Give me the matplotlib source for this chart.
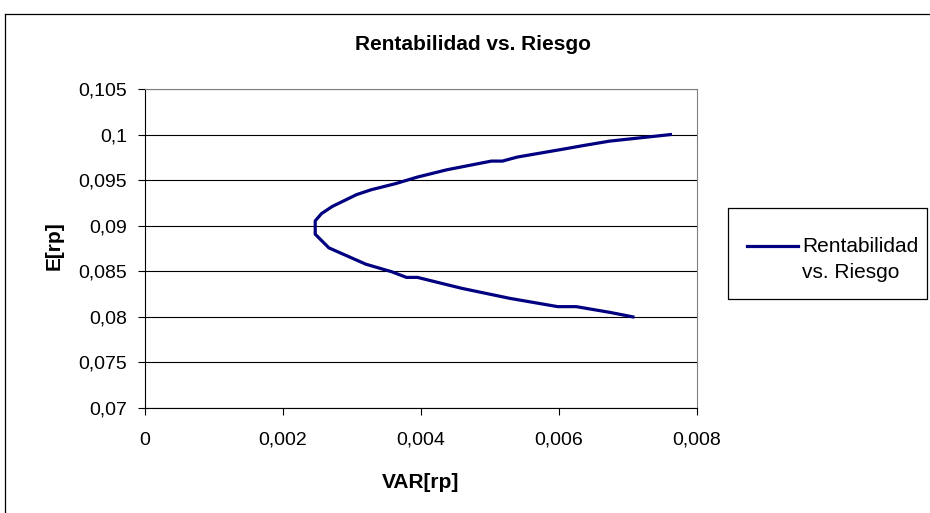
import matplotlib
matplotlib.use('Agg')
import matplotlib.pyplot as plt
from matplotlib.ticker import FuncFormatter, MultipleLocator
from matplotlib.lines import Line2D
from matplotlib.patches import Rectangle

plt.rcParams['font.family'] = ['Liberation Sans', 'DejaVu Sans']

# frontier points (lower branch -> vertex -> upper branch)
var_rp = [0.00707, 0.006732, 0.00625, 0.005982, 0.005287, 0.004591, 0.003949,
          0.003789, 0.003575, 0.0032, 0.002826, 0.002665, 0.002467,
          0.002467, 0.002558, 0.002718, 0.003066, 0.00328, 0.003628, 0.003949,
          0.004377, 0.005019, 0.00518, 0.005394, 0.00609, 0.006357, 0.006732,
          0.007615]
e_rp = [0.08, 0.0805, 0.08112, 0.08112, 0.08203, 0.08313, 0.08433,
        0.08433, 0.08495, 0.08578, 0.08703, 0.08757, 0.08907,
        0.09053, 0.09133, 0.09213, 0.09341, 0.09395, 0.09461, 0.09534,
        0.09614, 0.09709, 0.09709, 0.09753, 0.09844, 0.0988, 0.09928,
        0.1]

W, H = 930, 513
fig = plt.figure(figsize=(W / 100, H / 100), dpi=100)


def fx(px):
    return px / W


def fy(py):
    return 1 - py / H


# outer chart frame (top and left edges visible)
fig.add_artist(Line2D([fx(5), fx(5)], [0, fy(14)], color='black', lw=0.9,
                      transform=fig.transFigure))
fig.add_artist(Line2D([fx(5), 1], [fy(14), fy(14)], color='black', lw=0.9,
                      transform=fig.transFigure))

left, right, top, bottom = 145, 697, 89, 408
ax = fig.add_axes([fx(left), fy(bottom), (right - left) / W, (bottom - top) / H])

ax.plot(var_rp, e_rp, color='#000080', lw=2.3, solid_joinstyle='round')

ax.set_xlim(0, 0.008)
ax.set_ylim(0.07, 0.105)
ax.xaxis.set_major_locator(MultipleLocator(0.002))
ax.yaxis.set_major_locator(MultipleLocator(0.005))

fmt = FuncFormatter(lambda v, p: ('%g' % round(v, 6)).replace('.', ','))
ax.xaxis.set_major_formatter(fmt)
ax.yaxis.set_major_formatter(fmt)

ax.grid(axis='y', color='black', lw=0.8)
ax.set_axisbelow(True)
for s in ['top', 'right']:
    ax.spines[s].set_color('#808080')
ax.spines['left'].set_color('black')
ax.spines['bottom'].set_color('black')

ax.tick_params(axis='both', direction='out', length=5, labelsize=14, width=0.8)
ax.tick_params(axis='x', pad=12)
ax.tick_params(axis='y', pad=8)

fig.text(fx(421), fy(482), 'VAR[rp]', ha='center', va='center',
         fontsize=15, fontweight='bold')
fig.text(fx(54), fy(246), 'E[rp]', ha='center', va='center', rotation=90,
         fontsize=15, fontweight='bold')
fig.text(fx(473), fy(45), 'Rentabilidad vs. Riesgo', ha='center', va='center',
         fontsize=15, fontweight='bold')

# legend box
fig.add_artist(Rectangle((fx(728), fy(299)), 199 / W, 91 / H, fill=False,
                         edgecolor='black', lw=0.9, transform=fig.transFigure))
fig.add_artist(Line2D([fx(747), fx(798)], [fy(246), fy(246)], color='#000080',
                      lw=2.3, transform=fig.transFigure))
fig.text(fx(802), fy(246), 'Rentabilidad', ha='left', va='center', fontsize=15)
fig.text(fx(802), fy(273), 'vs. Riesgo', ha='left', va='center', fontsize=15)

fig.savefig('out.png', dpi=100)
